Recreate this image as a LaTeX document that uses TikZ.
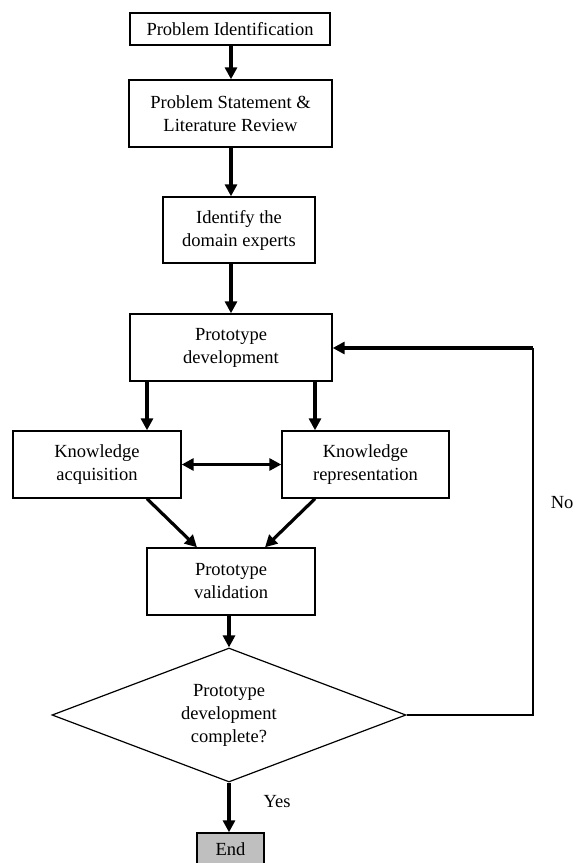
\documentclass[tikz,border=0pt]{standalone}
\usepackage{fontspec}
\setmainfont{Liberation Serif}
\usetikzlibrary{arrows.meta, positioning, shapes.geometric}

\begin{document}
\begin{tikzpicture}[
        x=1pt, y=-1pt,
        box/.style={
            draw,
            line width=1.4pt,
            minimum height=67pt,
            inner sep=0pt,
            font=\fontsize{18.5}{23}\selectfont,
            align=center
        },
        arr/.style={
            -{Triangle[length=12pt,width=12pt]},
            line width=3.2pt
        },
        thin line/.style={line width=1.4pt}
    ]
        \useasboundingbox (0,0) rectangle (577,863);

        % main column
        \node[box, minimum width=200pt, minimum height=32pt] (pid) at (230,29) {Problem Identification};
        \node[box, minimum width=203pt] (pst) at (230.5,113.5) {Problem Statement \&\\Literature Review};
        \node[box, minimum width=152pt, minimum height=66pt] (dom) at (239,230) {Identify the\\domain experts};
        \node[box, minimum width=202pt] (pdev) at (231,347.5) {Prototype\\development};

        % the two knowledge boxes
        \node[box, minimum width=168pt] (kacq) at (97,464.5) {Knowledge\\acquisition};
        \node[box, minimum width=167pt] (krep) at (365.5,464.5) {Knowledge\\representation};

        \node[box, minimum width=168pt] (pval) at (231,581.5) {Prototype\\validation};
        \node[box, diamond, aspect=2.64, line width=1.2pt, minimum width=354pt, minimum height=134pt] (chk) at (229,715)
            {Prototype\\development\\complete?};
        \node[box, fill=black!25, minimum width=67pt, minimum height=33pt] (end) at (230.5,849.5) {End};

        % labels on the exits
        \node[font=\fontsize{18.5}{23}\selectfont, anchor=west] (yes) at (260,802) {Yes};
        \node[font=\fontsize{18.5}{23}\selectfont, anchor=east] (no) at (577,503) {No};

        % arrows
        \draw[arr] (pid.south -| 231,0) -- (pst.north -| 231,0);
        \draw[arr] (pst.south -| 231,0) -- (dom.north -| 231,0);
        \draw[arr] (dom.south -| 231,0) -- (pdev.north -| 231,0);
        \draw[arr] (pdev.south -| 147,0) -- (kacq.north -| 147,0);
        \draw[arr] (pdev.south -| 315,0) -- (krep.north -| 315,0);
        \draw[{Triangle[length=12pt,width=12pt]}-{Triangle[length=12pt,width=12pt]}, line width=3.2pt]
            (kacq.east) -- (krep.west);
        \draw[arr] (kacq.south -| 147,0) -- (pval.north -| 197,0);
        \draw[arr] (krep.south -| 315,0) -- (pval.north -| 265,0);
        \draw[arr] (chk.north |- pval.south) -- (chk.north);
        \draw[arr] (chk.south) -- (end.north -| chk.south);

        % loop back when not complete
        \coordinate (c1) at (533,715);
        \coordinate (c2) at (533,348);
        \draw[thin line] (chk.east) -- (c1) -- (c2);
        \draw[arr] (c2) -- (pdev.east |- c2);
    \end{tikzpicture}
\end{document}
